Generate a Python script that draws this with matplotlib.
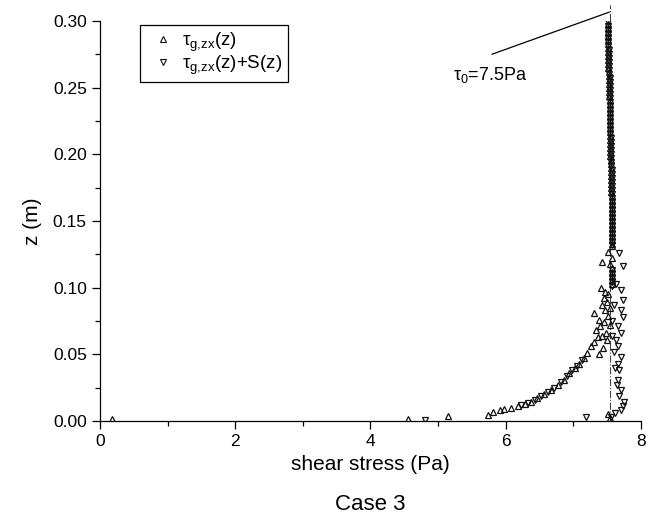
import matplotlib
matplotlib.use("Agg")
import matplotlib.pyplot as plt
from matplotlib.ticker import MultipleLocator, FormatStrFormatter

plt.rcParams['font.family'] = ['Liberation Sans', 'DejaVu Sans']
plt.rcParams['mathtext.fontset'] = 'custom'
plt.rcParams['mathtext.rm'] = 'Liberation Sans'
plt.rcParams['mathtext.it'] = 'Liberation Sans'

# ---- data ----
# upper part of tau_g,zx(z)
z_upper = [0.298, 0.295, 0.292, 0.289, 0.286, 0.283, 0.280, 0.277, 0.274, 0.271,
           0.268, 0.265, 0.262, 0.259, 0.256, 0.253, 0.250, 0.247, 0.244, 0.241,
           0.238, 0.235, 0.232, 0.229, 0.226, 0.223, 0.220, 0.217, 0.214, 0.211,
           0.208, 0.205, 0.202, 0.199, 0.196, 0.193, 0.190, 0.187, 0.184, 0.181,
           0.178, 0.175, 0.172, 0.169, 0.166, 0.163, 0.160, 0.157, 0.154, 0.151,
           0.148, 0.145, 0.142, 0.139, 0.136, 0.133, 0.131,
           0.115, 0.112, 0.109, 0.106, 0.103]
tau_upper = [7.51, 7.51, 7.51, 7.51, 7.51, 7.52, 7.52, 7.52, 7.52, 7.52,
             7.52, 7.52, 7.53, 7.53, 7.53, 7.53, 7.53, 7.53, 7.53, 7.54,
             7.54, 7.54, 7.54, 7.54, 7.54, 7.54, 7.55, 7.55, 7.55, 7.55,
             7.55, 7.55, 7.55, 7.55, 7.56, 7.56, 7.56, 7.56, 7.56, 7.56,
             7.56, 7.56, 7.56, 7.57, 7.57, 7.57, 7.57, 7.57, 7.57, 7.57,
             7.57, 7.57, 7.57, 7.57, 7.57, 7.57, 7.57,
             7.57, 7.57, 7.57, 7.57, 7.57]
# upper part of tau_g,zx(z)+S(z)
z_upperS = [0.2995, 0.2965, 0.2935, 0.2905, 0.2875, 0.2845, 0.2815, 0.2785, 0.2755, 0.2725,
            0.2695, 0.2665, 0.2635, 0.2605, 0.2575, 0.2545, 0.2515, 0.2485, 0.2455, 0.2425,
            0.2395, 0.2365, 0.2335, 0.2305, 0.2275, 0.2245, 0.2215, 0.2185, 0.2155, 0.2125,
            0.2095, 0.2065, 0.2035, 0.2005, 0.1975, 0.1945, 0.1915, 0.1885, 0.1855, 0.1825,
            0.1795, 0.1765, 0.1735, 0.1705, 0.1675, 0.1645, 0.1615, 0.1585, 0.1555, 0.1525,
            0.1495, 0.1465, 0.1435, 0.1405, 0.1375, 0.1345, 0.1320,
            0.1135, 0.1105, 0.1075, 0.1045, 0.1015]
tauS_upper = [7.52, 7.52, 7.52, 7.52, 7.52, 7.52, 7.52, 7.53, 7.53, 7.53,
              7.53, 7.53, 7.53, 7.53, 7.54, 7.54, 7.54, 7.54, 7.54, 7.54,
              7.54, 7.55, 7.55, 7.55, 7.55, 7.55, 7.55, 7.55, 7.55, 7.56,
              7.56, 7.56, 7.56, 7.56, 7.56, 7.56, 7.56, 7.57, 7.57, 7.57,
              7.57, 7.57, 7.57, 7.57, 7.57, 7.58, 7.58, 7.58, 7.58, 7.58,
              7.58, 7.58, 7.58, 7.58, 7.58, 7.58, 7.58,
              7.58, 7.58, 7.58, 7.58, 7.58]

# lower part: tau_g,zx(z)
z_tau_lower = [0.127, 0.122, 0.1195, 0.118, 0.0995, 0.097, 0.095, 0.092, 0.089, 0.087,
               0.085, 0.083, 0.081, 0.079, 0.076, 0.074, 0.072, 0.071, 0.068, 0.066,
               0.064, 0.063, 0.061, 0.059, 0.056, 0.055, 0.051, 0.050, 0.047, 0.043,
               0.040, 0.036, 0.031, 0.027, 0.023, 0.020, 0.017, 0.0145, 0.0128, 0.011,
               0.010, 0.009, 0.008, 0.007, 0.0045, 0.0035, 0.0015, 0.0015, 0.0020, 0.0050]
tau_lower = [7.51, 7.58, 7.43, 7.55, 7.41, 7.47, 7.52, 7.45, 7.50, 7.42,
             7.55, 7.47, 7.31, 7.52, 7.38, 7.45, 7.55, 7.40, 7.34, 7.48,
             7.43, 7.36, 7.50, 7.31, 7.26, 7.44, 7.21, 7.38, 7.16, 7.09,
             7.02, 6.94, 6.87, 6.77, 6.67, 6.57, 6.47, 6.38, 6.28, 6.18,
             6.08, 5.98, 5.91, 5.81, 5.74, 5.15, 4.56, 0.17, 7.55, 7.52]

# lower part: tau_g,zx(z)+S(z)
z_tauS_lower = [0.126, 0.116, 0.103, 0.098, 0.091, 0.087, 0.083, 0.078, 0.075, 0.071,
                0.066, 0.064, 0.061, 0.056, 0.052, 0.048, 0.046, 0.043, 0.041, 0.040,
                0.038, 0.038, 0.034, 0.031, 0.029, 0.027, 0.025, 0.023, 0.0215, 0.019,
                0.0185, 0.016, 0.0145, 0.0137, 0.012, 0.011, 0.008, 0.006, 0.003, 0.003,
                0.001]
tauS_lower = [7.68, 7.73, 7.63, 7.70, 7.73, 7.60, 7.70, 7.73, 7.58, 7.66,
              7.70, 7.57, 7.63, 7.66, 7.60, 7.70, 7.13, 7.66, 7.05, 7.62,
              7.68, 6.98, 6.91, 7.66, 6.82, 7.64, 6.72, 7.70, 6.62, 7.67,
              6.52, 6.43, 7.75, 6.33, 6.23, 7.73, 7.70, 7.61, 7.56, 7.19,
              4.81]

tau0 = 7.54

# ---- plot ----
fig = plt.figure(figsize=(6.58, 5.21), dpi=100)
ax = fig.add_axes([0.152, 0.192, 0.822, 0.768])

mk = dict(linestyle='none', markerfacecolor='none', markeredgecolor='#111111',
          markersize=5.0, markeredgewidth=0.9)
ax.plot(tau_upper + tau_lower, z_upper + z_tau_lower, marker='^',
        label=r'τ$_{\mathrm{g{,}zx}}$(z)', **mk)
ax.plot(tauS_upper + tauS_lower, z_upperS + z_tauS_lower, marker='v',
        label=r'τ$_{\mathrm{g{,}zx}}$(z)+S(z)', **mk)

ax.plot([tau0, tau0], [0.0, 0.312], color='#444444', linestyle='-.',
        linewidth=0.8, clip_on=False, zorder=0)
ax.plot([5.80, 7.53], [0.275, 0.3065], color='black', linewidth=0.9, clip_on=False)
ax.text(5.22, 0.2595, r'τ$_0$=7.5Pa', fontsize=13, va='center', ha='left')

ax.set_xlim(0, 8)
ax.set_ylim(0, 0.30)
ax.xaxis.set_major_locator(MultipleLocator(2))
ax.xaxis.set_minor_locator(MultipleLocator(1))
ax.yaxis.set_major_locator(MultipleLocator(0.05))
ax.yaxis.set_minor_locator(MultipleLocator(0.025))
ax.yaxis.set_major_formatter(FormatStrFormatter('%.2f'))
ax.spines['top'].set_visible(False)
ax.spines['right'].set_visible(False)
ax.tick_params(which='major', direction='out', length=6, width=0.9, labelsize=12.5)
ax.tick_params(which='minor', direction='out', length=3.5, width=0.9)
for s in ('left', 'bottom'):
    ax.spines[s].set_linewidth(0.9)

ax.set_xlabel('shear stress (Pa)', fontsize=15, labelpad=4)
ax.set_ylabel('z (m)', fontsize=15, labelpad=8)
fig.text(0.562, 0.031, 'Case 3', fontsize=16, ha='center', va='center')

leg = ax.legend(loc='upper left', bbox_to_anchor=(0.074, 0.99), borderaxespad=0,
                fancybox=False, edgecolor='black', framealpha=1, fontsize=13.5,
                handlelength=1.8, handletextpad=0.15, borderpad=0.3, labelspacing=0.0)
leg.get_frame().set_linewidth(0.9)
for h in leg.legend_handles:
    h.set_markersize(4.0)
    h.set_markeredgewidth(0.8)

fig.savefig('out.png', dpi=100)
